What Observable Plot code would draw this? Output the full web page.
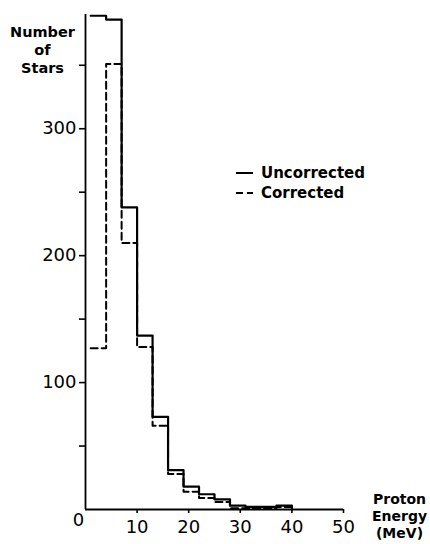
<!DOCTYPE html>
<html>
<head>
<meta charset="utf-8">
<script src="https://cdn.jsdelivr.net/npm/d3@7"></script>
<script src="https://cdn.jsdelivr.net/npm/@observablehq/plot@0.6"></script>
<style>
  html, body { margin: 0; padding: 0; background: #fff; }
  #chart svg { display: block; }
</style>
</head>
<body>
<div id="chart"></div>
<script>
// Bin edges (MeV): each bin is 3 MeV wide, from 1 to 40 MeV
const binStarts = [1, 4, 7, 10, 13, 16, 19, 22, 25, 28, 31, 34, 37];
const binEnd = 40;
const uncorrected = [389, 386, 238, 137, 73, 31, 18, 12, 8, 3, 2, 2, 3];
const corrected   = [127, 351, 210, 128, 66, 28, 14, 9, 6, 1, 1, 1, 2];
const yTicks = [50, 100, 150, 200, 250, 300, 350];
const yLabels = [100, 200, 300];
const xTicks = [10, 20, 30, 40, 50];

function stepPoints(values) {
  const pts = binStarts.map((x, i) => ({x, y: values[i]}));
  pts.push({x: binEnd, y: values[values.length - 1]});
  pts.push({x: binEnd, y: 0});
  return pts;
}
const uncPts = stepPoints(uncorrected);
const corPts = stepPoints(corrected);

const font = "DejaVu Sans, sans-serif";

const svg = Plot.plot({
  width: 430,
  height: 544,
  marginLeft: 85,
  marginRight: 87,
  marginTop: 14,
  marginBottom: 35,
  style: {fontFamily: font, background: "#fff", color: "#000", overflow: "visible"},
  x: {domain: [0, 50]},
  y: {domain: [0, 390]},
  marks: [
    Plot.axisY({ticks: yTicks, tickSize: 6, tickPadding: 3, fontSize: 18, strokeWidth: 1.6,
      tickFormat: d => yLabels.includes(d) ? String(d) : "", label: null}),
    Plot.axisX({ticks: xTicks, tickSize: 4, tickPadding: 7, fontSize: 18, strokeWidth: 1.6, label: null}),
    Plot.ruleX([0], {stroke: "#000", strokeWidth: 1.8}),
    Plot.ruleY([0], {stroke: "#000", strokeWidth: 1.8}),
    Plot.line(corPts, {x: "x", y: "y", curve: "step-after", stroke: "#000", strokeWidth: 2, strokeDasharray: "7,4"}),
    Plot.line(uncPts, {x: "x", y: "y", curve: "step-after", stroke: "#000", strokeWidth: 2.2}),
    Plot.text(["0"], {frameAnchor: "bottom-left", dx: -7, dy: 11, fontSize: 18, textAnchor: "middle", lineAnchor: "middle"}),
    Plot.text(["Number\nof\nStars"], {frameAnchor: "top-left", dx: -43, dy: 10, fontSize: 14.5, fontWeight: "bold",
      textAnchor: "middle", lineAnchor: "top", lineHeight: 1.24}),
    Plot.text(["Proton\nEnergy\n(MeV)"], {frameAnchor: "bottom-right", dx: 56, dy: -17, fontSize: 14, fontWeight: "bold",
      textAnchor: "middle", lineAnchor: "top", lineHeight: 1.2})
  ]
});

// Legend
const g = d3.select(svg).append("g").attr("font-family", font).attr("font-size", 15)
  .attr("font-weight", "bold").attr("text-anchor", "start");
const legend = [
  {label: "Uncorrected", dash: null, y: 173},
  {label: "Corrected", dash: "7,4", y: 193}
];
legend.forEach(d => {
  g.append("line").attr("x1", 236).attr("x2", 253).attr("y1", d.y).attr("y2", d.y)
    .attr("stroke", "#000").attr("stroke-width", 2).attr("stroke-dasharray", d.dash);
  g.append("text").attr("x", 261).attr("y", d.y + 5).attr("text-anchor", "start").text(d.label);
});

document.getElementById("chart").appendChild(svg);
</script>
</body>
</html>
